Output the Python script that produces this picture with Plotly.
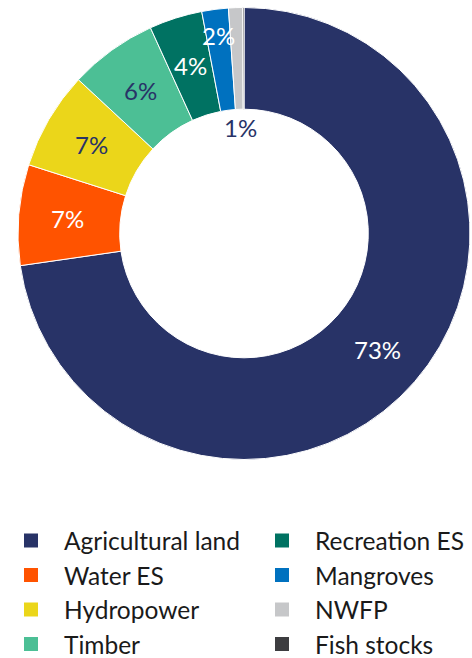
import math
import plotly.graph_objects as go

# Share of total value by asset category (%)
categories = ["Agricultural land", "Water ES", "Hydropower", "Timber",
              "Recreation ES", "Mangroves", "NWFP", "Fish stocks"]
shares = [72.8, 7.2, 7.0, 6.3, 3.8, 1.9, 1.0, 0.1]
colors = ["#283367", "#FF5300", "#EBD61A", "#4CBF95",
          "#007262", "#0071BF", "#C6C7C9", "#3D3D40"]
label_colors = ["white", "white", "#283367", "#283367",
                "white", "white", "#283367", "white"]

W, H = 472, 658
FONT = "Lato, 'Noto Sans', sans-serif"
dom_x = [18 / W, 470 / W]
dom_y = [1 - 460 / H, 1 - 7 / H]
HOLE = 0.55

fig = go.Figure()
fig.add_trace(go.Pie(
    labels=categories,
    values=shares,
    textinfo="none",
    hoverinfo="label+percent",
    sort=False,
    direction="clockwise",
    rotation=0,
    hole=HOLE,
    marker=dict(colors=colors, line=dict(color="white", width=1)),
    domain=dict(x=dom_x, y=dom_y),
    showlegend=False,
))

# Percentage labels at the middle angle of each slice
total = sum(shares)
cx = (dom_x[0] + dom_x[1]) / 2 * W
cy = (1 - (dom_y[0] + dom_y[1]) / 2) * H
R = min((dom_x[1] - dom_x[0]) * W, (dom_y[1] - dom_y[0]) * H) / 2
cum = 0.0
for name, v, tc in zip(categories, shares, label_colors):
    frac = v / total
    mid = math.radians((cum + frac / 2) * 360)
    cum += frac
    pct = round(frac * 100)
    if pct < 1:
        continue
    if frac < 0.015:
        r = R * HOLE * 0.85      # very thin slice: label sits in the hole
    elif frac < 0.03:
        r = R * 0.885            # thin slice: label pushed toward the rim
    else:
        r = R * (1 + HOLE) / 2 + 1.5
    fig.add_annotation(
        x=(cx + r * math.sin(mid)) / W, y=1 - (cy - r * math.cos(mid)) / H,
        xref="paper", yref="paper", xanchor="center", yanchor="middle",
        text=f"{pct}%", showarrow=False,
        font=dict(family=FONT, size=24, color=tc),
    )

# Two-column legend: square swatch + category name
col_x = [31, 282]          # swatch centres (px)
text_gap = 31              # swatch centre to text anchor (px)
row_y0, row_dy = 540.5, 34.5
for i, (name, col) in enumerate(zip(categories, colors)):
    c, row = divmod(i, 4)
    xs, ys = col_x[c], row_y0 + row * row_dy
    fig.add_shape(
        type="rect", xref="paper", yref="paper",
        x0=(xs - 7) / W, x1=(xs + 7) / W,
        y0=1 - (ys + 7) / H, y1=1 - (ys - 7) / H,
        fillcolor=col, line=dict(width=0),
    )
    fig.add_annotation(
        x=(xs + text_gap) / W, y=1 - ys / H, xref="paper", yref="paper",
        xanchor="left", yanchor="middle", text=name, showarrow=False,
        font=dict(family=FONT, size=24.5, color="#1a1a1a"),
    )

fig.update_layout(
    width=W, height=H,
    margin=dict(l=0, r=0, t=0, b=0),
    paper_bgcolor="white", plot_bgcolor="white",
    showlegend=False,
)

fig.write_html("out.html")
